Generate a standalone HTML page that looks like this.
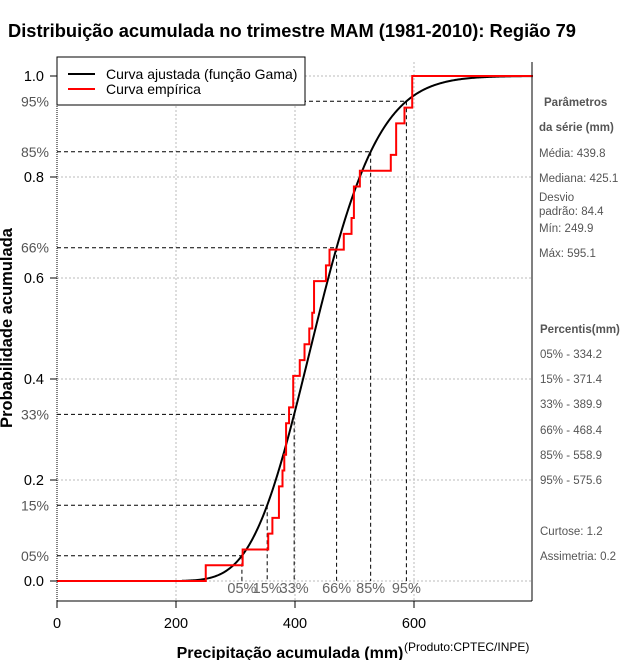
<!DOCTYPE html>
<html><head><meta charset="utf-8">
<style>
html,body{margin:0;padding:0;background:#fff;}
svg{display:block;font-family:"Liberation Sans",sans-serif;}
</style></head>
<body>
<svg id="chart" width="640" height="660" viewBox="0 0 640 660" xmlns="http://www.w3.org/2000/svg">
<rect x="0" y="0" width="640" height="660" fill="#fff"/>
<text x="8" y="37" font-size="18.3" font-weight="bold" fill="#000">Distribuição acumulada no trimestre MAM (1981-2010): Região 79</text>
<g id="grid"></g>
<g id="ref"></g>
<g id="series"></g>
<g id="axes"></g>
<g id="legend">
  <rect x="57" y="57" width="248" height="48" fill="#fff" stroke="#000" stroke-width="1"/>
  <line x1="68" y1="74" x2="95" y2="74" stroke="#000" stroke-width="2"/>
  <text x="106" y="79" font-size="14">Curva ajustada (função Gama)</text>
  <line x1="68" y1="89" x2="95" y2="89" stroke="#f00" stroke-width="2"/>
  <text x="106" y="94" font-size="14">Curva empírica</text>
</g>
<g font-size="11.5" fill="#555">
  <text x="544" y="106" font-weight="bold">Parâmetros</text>
  <text x="539" y="131" font-weight="bold">da série (mm)</text>
  <text x="539" y="157">Média: 439.8</text>
  <text x="539" y="182">Mediana: 425.1</text>
  <text x="539" y="201">Desvio</text>
  <text x="539" y="215">padrão: 84.4</text>
  <text x="539" y="232">Mín: 249.9</text>
  <text x="539" y="257">Máx: 595.1</text>
  <text x="540" y="333" font-weight="bold">Percentis(mm)</text>
  <text x="540" y="358">05% - 334.2</text>
  <text x="540" y="383">15% - 371.4</text>
  <text x="540" y="408">33% - 389.9</text>
  <text x="540" y="434">66% - 468.4</text>
  <text x="540" y="459">85% - 558.9</text>
  <text x="540" y="484">95% - 575.6</text>
  <text x="540" y="535">Curtose: 1.2</text>
  <text x="540" y="560">Assimetria: 0.2</text>
</g>
<text x="290" y="658" text-anchor="middle" font-size="16" font-weight="bold">Precipitação acumulada (mm)</text>
<text x="404" y="651" font-size="12">(Produto:CPTEC/INPE)</text>
<text transform="translate(12,328) rotate(-90)" text-anchor="middle" font-size="16.5" font-weight="bold">Probabilidade acumulada</text>
</svg>
<script>
const sample = [250,312,355,362,373,373,379,382,385,385,390,397,397,408,416,424,429,432,432,452,458,482,495,499,499,509,561,570,570,584,597,597];
const gammaMean = 439.8;
const gammaSd = 84.4;
const xTicks = [0,200,400,600];
const yTicks = [0,0.2,0.4,0.6,0.8,1.0];
const pctLevels = [0.05,0.15,0.33,0.66,0.85,0.95];
const pctLabels = ["05%","15%","33%","66%","85%","95%"];

const NS="http://www.w3.org/2000/svg";
const X0=57, X1=532, Y0=62, Y1=601;
const sx=v=>57+v*0.595;
const sy=p=>581-p*505;
function mk(tag,attrs,parent){const e=document.createElementNS(NS,tag);for(const k in attrs)e.setAttribute(k,attrs[k]);parent.appendChild(e);return e;}

const shape=(gammaMean/gammaSd)**2, scale=gammaSd*gammaSd/gammaMean;
function lgamma(z){const g=7,c=[0.99999999999980993,676.5203681218851,-1259.1392167224028,771.32342877765313,-176.61502916214059,12.507343278686905,-0.13857109526572012,9.9843695780195716e-6,1.5056327351493116e-7];z-=1;let x=c[0];for(let i=1;i<g+2;i++)x+=c[i]/(z+i);const t=z+g+0.5;return 0.5*Math.log(2*Math.PI)+(z+0.5)*Math.log(t)-t+Math.log(x);}
function gammaP(a,x){if(x<=0)return 0;if(x<a+1){let sum=1/a,del=sum,ap=a;for(let n=0;n<500;n++){ap++;del*=x/ap;sum+=del;if(Math.abs(del)<Math.abs(sum)*1e-12)break;}return sum*Math.exp(-x+a*Math.log(x)-lgamma(a));}
 let b=x+1-a,c=1e300,d=1/b,h=d;for(let i=1;i<500;i++){const an=-i*(i-a);b+=2;d=an*d+b;if(Math.abs(d)<1e-300)d=1e-300;c=b+an/c;if(Math.abs(c)<1e-300)c=1e-300;d=1/d;const del=d*c;h*=del;if(Math.abs(del-1)<1e-12)break;}return 1-Math.exp(-x+a*Math.log(x)-lgamma(a))*h;}
const cdf=v=>gammaP(shape,v/scale);
function quant(p){let lo=0,hi=2000;for(let i=0;i<80;i++){const m=(lo+hi)/2;if(cdf(m)<p)lo=m;else hi=m;}return (lo+hi)/2;}

const grid=document.getElementById('grid');
xTicks.forEach(t=>{if(t===0)return;const l=mk('line',{x1:sx(t),y1:Y0,x2:sx(t),y2:Y1,stroke:'#bbb','stroke-dasharray':'2,2'},grid);

});
yTicks.forEach(t=>{const l=mk('line',{x1:X0,y1:sy(t),x2:X1,y2:sy(t),stroke:'#bbb','stroke-dasharray':'2,2'},grid);

});

const ref=document.getElementById('ref');
pctLevels.forEach((p,i)=>{const q=quant(p);
 const h=mk('line',{x1:X0,y1:sy(p),x2:sx(q),y2:sy(p),stroke:'#000','stroke-dasharray':'4,3'},ref);
 
 
 const v=mk('line',{x1:sx(q),y1:sy(p),x2:sx(q),y2:sy(0),stroke:'#000','stroke-dasharray':'4,3'},ref);
 
 
 const tl=mk('text',{x:sx(q),y:593,'text-anchor':'middle','font-size':14.5,fill:'#666'},ref);tl.textContent=pctLabels[i];
 
 
 const yl=mk('text',{x:49,y:sy(p)+5,'text-anchor':'end','font-size':14,fill:'#555'},ref);yl.textContent=pctLabels[i];
 
 
});

const series=document.getElementById('series');
let d='';for(let v=210;v<=800;v+=2){d+=(d?'L':'M')+sx(v).toFixed(2)+','+sy(cdf(v)).toFixed(2);}
const gp=mk('path',{d:d,fill:'none',stroke:'#000','stroke-width':2},series);


const n=sample.length;let e='M'+sx(0)+','+sy(0);
sample.forEach((v,i)=>{e+='L'+sx(v)+','+sy(i/n)+'L'+sx(v)+','+sy((i+1)/n);});
e+='L'+sx(800)+','+sy(1);
const ep=mk('path',{d:e,fill:'none',stroke:'#f00','stroke-width':2},series);



const axes=document.getElementById('axes');
mk('line',{x1:X0,y1:Y0,x2:X0,y2:Y1,stroke:'#000','stroke-dasharray':'1,1'},axes);
mk('line',{x1:X0,y1:Y1,x2:X1,y2:Y1,stroke:'#000'},axes);
mk('line',{x1:X1,y1:Y0,x2:X1,y2:Y1,stroke:'#000'},axes);
xTicks.forEach(t=>{mk('line',{x1:sx(t),y1:Y1,x2:sx(t),y2:Y1+7,stroke:'#000'},axes);
 const tx=mk('text',{x:sx(t),y:628,'text-anchor':'middle','font-size':14.5},axes);tx.textContent=t;
 
 });
yTicks.forEach(t=>{mk('line',{x1:X0-7,y1:sy(t),x2:X0,y2:sy(t),stroke:'#000'},axes);
 const tx=mk('text',{x:44,y:sy(t)+5,'text-anchor':'end','font-size':14.5},axes);tx.textContent=t.toFixed(1);
 
 });
</script>
</body></html>
